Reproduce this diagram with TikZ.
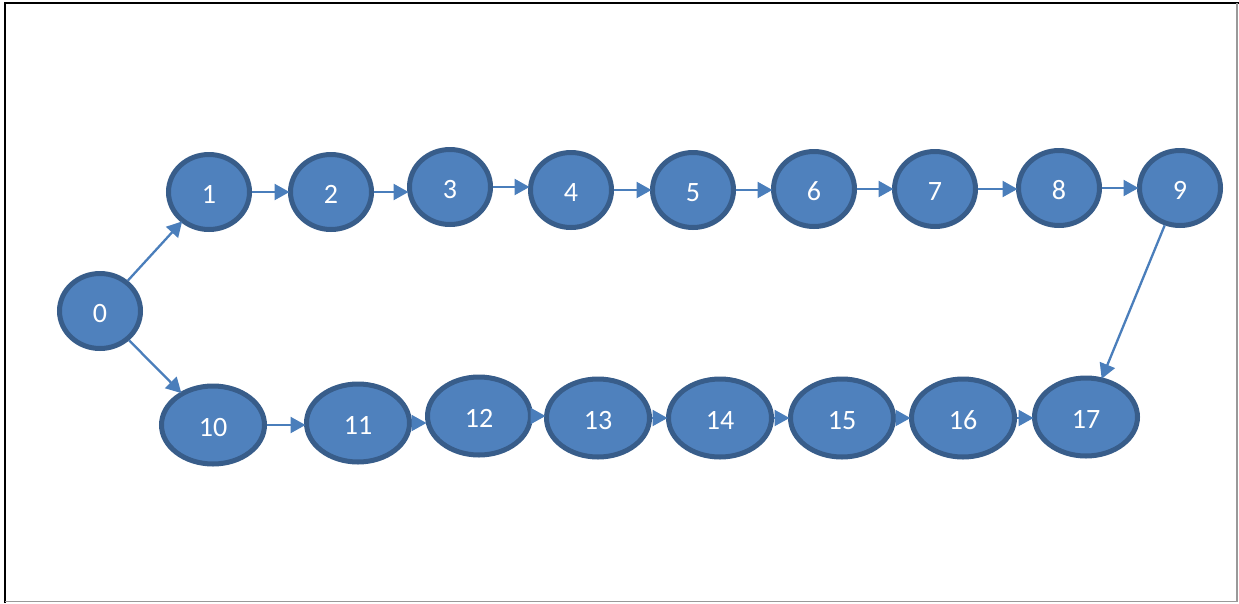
\documentclass[tikz,border=0pt]{standalone}
\usepackage{fontspec}
\setmainfont{Carlito}
\usetikzlibrary{shapes.geometric,arrows.meta}
\definecolor{nodefill}{HTML}{4F81BD}
\definecolor{nodeline}{HTML}{385D8A}
\definecolor{arrowcol}{HTML}{4A7EBB}
\tikzset{
  vert/.style={ellipse, draw=nodeline, fill=nodefill, line width=5pt, inner sep=0pt,
    text=white, font=\fontsize{28}{30}\selectfont},
  small/.style={vert, minimum width=81pt, minimum height=75pt},
  wide/.style={vert, minimum width=103pt, minimum height=78pt},
  conn/.style={draw=arrowcol, line width=2.3pt, -{Triangle[length=15pt,width=16pt]}, shorten >=-1.5pt}
}
\newcommand{\lbl}[1]{\raisebox{-11pt}[0pt][0pt]{#1}}
\begin{document}
\begin{tikzpicture}[x=1pt,y=-1pt]
\useasboundingbox (0,0) rectangle (1239,603);
\fill[white] (0,0) rectangle (1239,603);
\draw[black, line width=2.5pt] (5,603) -- (5,3) -- (1239,3);
\draw[gray!80, line width=1.2pt] (1237,3) -- (1237,601.5) -- (5,601.5);
\node[small] (n0) at (100,311) {\lbl{0}};
\node[small] (n1) at (209,192) {\lbl{1}};
\node[small] (n2) at (331,192) {\lbl{2}};
\node[small] (n3) at (450,187) {\lbl{3}};
\node[small] (n4) at (571,190) {\lbl{4}};
\node[small] (n5) at (693,190) {\lbl{5}};
\node[small] (n6) at (814,189) {\lbl{6}};
\node[small] (n7) at (935,189) {\lbl{7}};
\node[small] (n8) at (1059,188) {\lbl{8}};
\node[small] (n9) at (1180,188) {\lbl{9}};
\node[wide] (n10) at (213,425) {\lbl{10}};
\node[wide] (n11) at (358,423) {\lbl{11}};
\node[wide] (n12) at (479,416) {\lbl{12}};
\node[wide] (n13) at (598,418) {\lbl{13}};
\node[wide] (n14) at (720,418) {\lbl{14}};
\node[wide] (n15) at (842,418) {\lbl{15}};
\node[wide] (n16) at (963,418) {\lbl{16}};
\node[wide] (n17) at (1086,417) {\lbl{17}};
\draw[conn] (n0) -- (n1);
\draw[conn] (n0) -- (n10);
\foreach \a/\b in {1/2,2/3,3/4,4/5,5/6,6/7,7/8,8/9,10/11,11/12,12/13,13/14,14/15,15/16,16/17}
  \draw[conn] (n\a.east) -- (n\a.east -| n\b.west);
\draw[conn] (n9) -- (n17);
\end{tikzpicture}
\end{document}
